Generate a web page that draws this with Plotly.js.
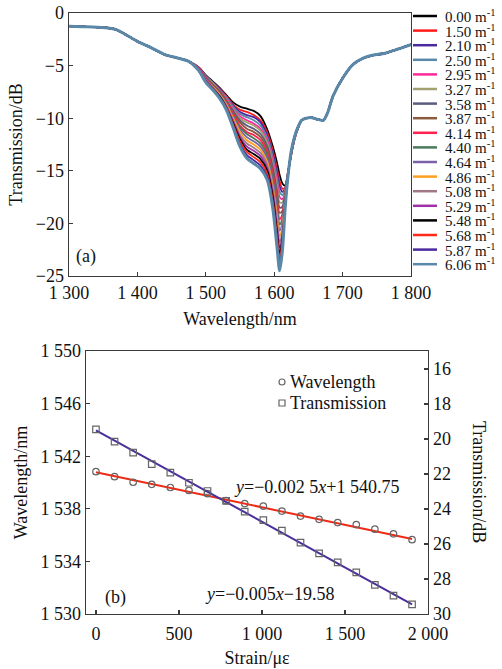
<!DOCTYPE html>
<html>
<head>
<meta charset="utf-8">
<script src="https://cdn.plot.ly/plotly-3.0.1.min.js"></script>
<style>html,body{margin:0;padding:0;background:#fff;}#chart{width:502px;height:669px;}</style>
</head>
<body>
<div id="chart"></div>
<script>
// ---------- Panel (a): transmission spectra ----------
const curvatures = ['0.00','1.50','2.10','2.50','2.95','3.27','3.58','3.87','4.14','4.40','4.64','4.86','5.08','5.29','5.48','5.68','5.87','6.06'];
const curveColors = ['#000000','#ff1a1a','#4b2aa0','#5a88a8','#ff2a9a','#a0a070','#5a5a80','#8c5a3c','#ff2050','#4a7a5a','#7a62a8','#ffa020','#a07888','#a030a8','#000000','#ff2a1a','#4b2aa0','#5a88a8'];

const wlLeft = [1300,1320,1340,1360,1370,1380,1400,1420,1440,1460,1475];
const trLeft = [-1.25,-1.3,-1.35,-1.45,-1.6,-1.95,-2.7,-3.3,-3.95,-4.3,-4.6];
const wlDip = [1490,1500,1510,1520,1530,1540,1550,1560,1570,1580,1590,1598,1604,1608,1612,1616,1620,1625,1630,1635,1640];
const wlRight = [1647,1655,1663,1672,1678,1686,1700,1715,1730,1745,1760,1780,1800];
const trRight = [-10.0,-9.95,-10.1,-10.2,-9.5,-7.9,-6.2,-4.9,-4.3,-4.0,-3.85,-3.45,-3.0];

const t000 = [-5.2,-5.9,-6.5,-7.1,-7.8,-8.5,-8.9,-9.1,-9.3,-9.8,-11.1,-12.7,-14.2,-15.4,-16.2,-16.4,-15.2,-13.4,-11.9,-10.9,-10.2];
const t150 = [-5.2,-6.0,-6.6,-7.2,-7.9,-8.7,-9.2,-9.4,-9.7,-10.2,-11.4,-13.1,-14.8,-16.0,-16.7,-16.6,-15.2,-13.4,-11.9,-10.9,-10.2];
const t210 = [-5.2,-6.0,-6.6,-7.2,-8.0,-8.8,-9.4,-9.7,-9.9,-10.4,-11.7,-13.4,-15.2,-16.5,-17.0,-16.7,-15.3,-13.4,-11.9,-10.9,-10.2];
const t250 = [-5.3,-6.0,-6.6,-7.3,-8.0,-8.9,-9.6,-9.9,-10.2,-10.7,-11.9,-13.7,-15.6,-17.0,-17.3,-16.8,-15.3,-13.4,-11.9,-10.9,-10.2];
const t295 = [-5.3,-6.1,-6.7,-7.3,-8.1,-9.1,-9.8,-10.2,-10.5,-11.0,-12.2,-14.1,-16.0,-17.5,-17.7,-16.9,-15.3,-13.3,-11.9,-10.9,-10.2];
const t327 = [-5.3,-6.1,-6.7,-7.4,-8.2,-9.2,-10.0,-10.4,-10.7,-11.2,-12.4,-14.4,-16.4,-18.0,-18.0,-17.0,-15.3,-13.3,-11.8,-10.9,-10.2];
const t358 = [-5.3,-6.1,-6.8,-7.4,-8.3,-9.3,-10.2,-10.7,-11.0,-11.5,-12.7,-14.7,-16.9,-18.5,-18.4,-17.2,-15.3,-13.3,-11.8,-10.9,-10.2];
const t387 = [-5.3,-6.2,-6.8,-7.5,-8.4,-9.5,-10.4,-11.0,-11.3,-11.8,-13.0,-15.1,-17.4,-19.0,-18.8,-17.3,-15.4,-13.3,-11.8,-10.9,-10.2];
const t414 = [-5.3,-6.2,-6.9,-7.6,-8.4,-9.6,-10.7,-11.3,-11.6,-12.1,-13.3,-15.4,-17.9,-19.6,-19.1,-17.4,-15.4,-13.3,-11.8,-10.9,-10.2];
const t440 = [-5.4,-6.3,-6.9,-7.6,-8.5,-9.8,-10.9,-11.5,-11.9,-12.4,-13.6,-15.8,-18.4,-20.1,-19.5,-17.5,-15.4,-13.2,-11.8,-10.9,-10.2];
const t464 = [-5.4,-6.3,-7.0,-7.7,-8.6,-9.9,-11.1,-11.8,-12.2,-12.7,-13.9,-16.1,-18.8,-20.7,-19.9,-17.7,-15.4,-13.2,-11.8,-10.8,-10.2];
const t486 = [-5.4,-6.4,-7.0,-7.7,-8.7,-10.0,-11.3,-12.1,-12.5,-13.0,-14.2,-16.5,-19.3,-21.2,-20.3,-17.8,-15.5,-13.2,-11.8,-10.8,-10.2];
const t508 = [-5.4,-6.4,-7.1,-7.8,-8.8,-10.2,-11.6,-12.4,-12.8,-13.3,-14.5,-16.8,-19.8,-21.8,-20.7,-17.9,-15.5,-13.2,-11.8,-10.8,-10.2];
const t529 = [-5.4,-6.4,-7.1,-7.9,-8.9,-10.3,-11.8,-12.7,-13.1,-13.6,-14.8,-17.2,-20.3,-22.3,-21.1,-18.1,-15.5,-13.2,-11.8,-10.8,-10.2];
const t548 = [-5.5,-6.5,-7.2,-7.9,-9.0,-10.5,-12.0,-13.0,-13.4,-13.9,-15.0,-17.5,-20.8,-22.9,-21.5,-18.2,-15.5,-13.2,-11.7,-10.8,-10.2];
const t568 = [-5.5,-6.5,-7.2,-8.0,-9.0,-10.6,-12.2,-13.2,-13.7,-14.2,-15.3,-17.9,-21.2,-23.4,-21.8,-18.3,-15.6,-13.1,-11.7,-10.8,-10.2];
const t587 = [-5.5,-6.6,-7.3,-8.0,-9.1,-10.8,-12.5,-13.5,-14.0,-14.5,-15.6,-18.3,-21.7,-24.0,-22.2,-18.5,-15.6,-13.1,-11.7,-10.8,-10.2];
const t606 = [-5.5,-6.6,-7.3,-8.1,-9.2,-10.9,-12.7,-13.8,-14.3,-14.8,-15.9,-18.6,-22.2,-24.5,-22.6,-18.6,-15.6,-13.1,-11.7,-10.8,-10.2];
const dipSeries = [t000,t150,t210,t250,t295,t327,t358,t387,t414,t440,t464,t486,t508,t529,t548,t568,t587,t606];

const xTickVals = [1300,1400,1500,1600,1700,1800];
const xTickText = ['1 300','1 400','1 500','1 600','1 700','1 800'];
const yTickVals = [-25,-20,-15,-10,-5,0];

// ---------- Panel (b): strain response ----------
const strain = [0,112,224,336,448,560,672,784,896,1008,1120,1232,1344,1456,1568,1680,1792,1904];
const dipWavelength = [1540.82,1540.44,1540.02,1539.86,1539.62,1539.40,1539.15,1538.62,1538.40,1538.21,1537.83,1537.45,1537.2,1536.95,1536.8,1536.45,1536.1,1535.65];
const dipTransmission = [19.45,20.15,20.78,21.43,21.92,22.5,22.97,23.54,24.15,24.63,25.24,25.92,26.53,27.05,27.62,28.34,28.95,29.45];
const fitStrain = [0,1904];
const fitWavelength = [1540.78,1535.70];
const fitTransmission = [19.5,29.45];
const strainTickVals = [0,500,1000,1500,2000];
const strainTickText = ['0','500','1 000','1 500','2 000'];
const wlTickVals = [1530,1534,1538,1542,1546,1550];
const wlTickText = ['1 530','1 534','1 538','1 542','1 546','1 550'];
const trTickVals = [16,18,20,22,24,26,28,30];

// ---------- helpers ----------
const W = 502, H = 669;
const px = v => v / W;
const py = v => 1 - v / H;
const FONT = 'Liberation Serif, Times New Roman, serif';
const TXT = {family: FONT, size: 18, color: '#111'};

const traces = [];
dipSeries.forEach((d, i) => {
  traces.push({
    type: 'scatter', mode: 'lines', xaxis: 'x', yaxis: 'y',
    x: wlLeft.concat(wlDip, wlRight),
    y: trLeft.concat(d, trRight),
    line: {color: curveColors[i], width: i === dipSeries.length - 1 ? 3 : 1.8, shape: 'spline', smoothing: 0.8},
    name: curvatures[i] + ' m-1', showlegend: false, hoverinfo: 'skip'
  });
});

traces.push({type:'scatter', mode:'lines', xaxis:'x2', yaxis:'y3', x: fitStrain, y: fitTransmission,
  line:{color:'#4a2e9c', width:2}, showlegend:false});
traces.push({type:'scatter', mode:'lines', xaxis:'x2', yaxis:'y2', x: fitStrain, y: fitWavelength,
  line:{color:'#f02a14', width:2}, showlegend:false});
traces.push({type:'scatter', mode:'markers', xaxis:'x2', yaxis:'y2', x: strain, y: dipWavelength,
  marker:{symbol:'circle-open', size:6.5, color:'#666', line:{width:1.2, color:'#666'}}, showlegend:false});
traces.push({type:'scatter', mode:'markers', xaxis:'x2', yaxis:'y3', x: strain, y: dipTransmission,
  marker:{symbol:'square-open', size:6.5, color:'#666', line:{width:1.2, color:'#666'}}, showlegend:false});

const axisCommon = {
  showline: true, linecolor: '#3a3a3a', linewidth: 1.4, ticks: 'inside', ticklen: 4,
  tickcolor: '#3a3a3a', tickwidth: 1.2, showgrid: false, zeroline: false,
  tickfont: TXT
};

const shapes = [];
const annotations = [];
curvatures.forEach((c, i) => {
  const yy = py(16 + 14.6 * i);
  shapes.push({type:'line', xref:'paper', yref:'paper', x0: px(413), x1: px(437), y0: yy, y1: yy,
    line:{color: curveColors[i], width: 2.5}});
  annotations.push({xref:'paper', yref:'paper', x: px(443), y: yy, xanchor:'left', yanchor:'middle',
    text: c + ' m<sup>-1</sup>', showarrow:false, font:{family: FONT, size: 15, color:'#111'}});
});

annotations.push({xref:'paper', yref:'paper', x: px(74), y: py(257), xanchor:'left', yanchor:'middle',
  text:'(a)', showarrow:false, font:TXT});
annotations.push({xref:'paper', yref:'paper', x: px(103), y: py(597), xanchor:'left', yanchor:'middle',
  text:'(b)', showarrow:false, font:TXT});
annotations.push({xref:'paper', yref:'paper', x: px(232), y: py(487), xanchor:'left', yanchor:'middle',
  text:'<i>y</i>=−0.002 5<i>x</i>+1 540.75', showarrow:false, font:TXT});
annotations.push({xref:'paper', yref:'paper', x: px(203), y: py(594), xanchor:'left', yanchor:'middle',
  text:'<i>y</i>=−0.005<i>x</i>−19.58', showarrow:false, font:TXT});
shapes.push({type:'circle', xref:'paper', yref:'paper', x0: px(279), x1: px(285), y0: py(379), y1: py(385),
  line:{color:'#666', width:1.2}});
shapes.push({type:'rect', xref:'paper', yref:'paper', x0: px(279), x1: px(285), y0: py(400), y1: py(406),
  line:{color:'#666', width:1.2}});
annotations.push({xref:'paper', yref:'paper', x: px(288), y: py(382), xanchor:'left', yanchor:'middle',
  text:'Wavelength', showarrow:false, font:TXT});
annotations.push({xref:'paper', yref:'paper', x: px(288), y: py(403), xanchor:'left', yanchor:'middle',
  text:'Transmission', showarrow:false, font:TXT});
annotations.push({xref:'paper', yref:'paper', x: px(479), y: py(482), xanchor:'center', yanchor:'middle',
  text:'Transmission/dB', textangle: 90, showarrow:false, font:TXT});

const layout = {
  width: W, height: H, margin: {l:0, r:0, t:0, b:0},
  paper_bgcolor: '#fff', plot_bgcolor: '#fff',
  font: TXT,
  showlegend: false,
  xaxis: Object.assign({}, axisCommon, {domain:[px(69), px(411)], anchor:'y', range:[1300,1800],
    tickvals: xTickVals, ticktext: xTickText, mirror: true,
    title:{text:'Wavelength/nm', font:TXT, standoff: 10}}),
  yaxis: Object.assign({}, axisCommon, {domain:[py(276), py(13)], anchor:'x', range:[-25,0],
    tickvals: yTickVals, mirror: true,
    title:{text:'Transmission/dB', font:TXT, standoff: 8}}),
  xaxis2: Object.assign({}, axisCommon, {domain:[px(86), px(428)], anchor:'y2', range:[-60,2000],
    tickvals: strainTickVals, ticktext: strainTickText, mirror: true, ticklabelstandoff: 3,
    title:{text:'Strain/με', font:TXT, standoff: 8}}),
  yaxis2: Object.assign({}, axisCommon, {domain:[py(614), py(351)], anchor:'x2', range:[1530,1550],
    tickvals: wlTickVals, ticktext: wlTickText,
    title:{text:'Wavelength/nm', font:TXT, standoff: 8}}),
  yaxis3: Object.assign({}, axisCommon, {overlaying:'y2', side:'right', anchor:'x2', range:[30,14.97],
    tickvals: trTickVals}),
  shapes: shapes,
  annotations: annotations
};

Plotly.newPlot('chart', traces, layout, {staticPlot: true, displayModeBar: false});
</script>
</body>
</html>
